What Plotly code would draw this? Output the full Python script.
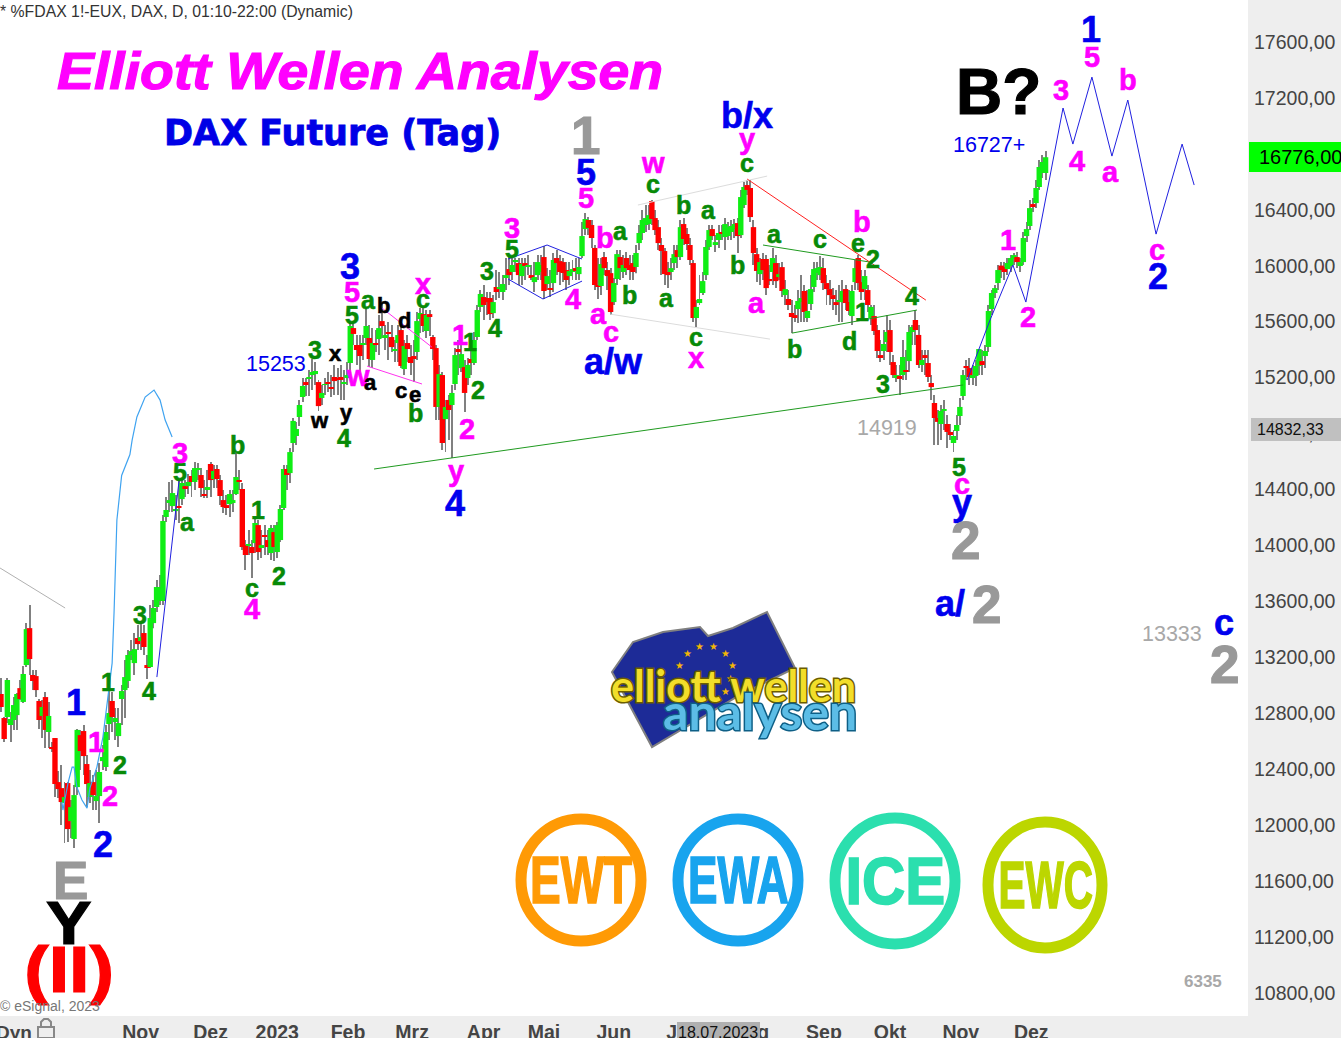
import plotly.graph_objects as go

# ---------- daily candles (FDAX), one entry per session ----------
opens = [12937,12765,12772,12715,12751,12786,12979,12880,13144,13408,
13073,13065,12887,12780,12915,12665,12558,12622,12307,12264,
12157,12300,12028,11900,12271,12643,12672,12436,12200,12307,
12171,12207,12457,12415,12722,12887,12736,12636,12901,12965,
13030,13216,13158,13337,13316,13373,13144,13130,13444,13559,
13602,13602,14203,14303,14281,14245,14281,14331,14424,14424,
14496,14453,14539,14503,14367,14403,14582,14474,14546,14467,
14324,14288,14295,14303,14367,14467,14403,14002,14002,13988,
14016,14145,13988,14074,14038,13945,14095,13952,14038,14267,
14546,14517,14732,14782,14918,15061,15168,15190,15218,15225,
15168,15054,15147,15168,15132,15204,15197,15204,15161,15204,
15304,15554,15433,15433,15440,15483,15483,15326,15447,15476,
15604,15490,15526,15490,15397,15447,15540,15261,15447,15347,
15354,15383,15619,15654,15533,15654,15490,15411,14990,15218,
14903,15040,15004,15154,15404,15268,15275,15197,15333,15304,
15490,15705,15776,15769,15769,15661,15848,15833,15812,15912,
15976,15955,16026,16019,15926,16019,15991,15933,15883,15933,
15955,16062,15869,15840,15876,16055,16033,16026,15969,15926,
15955,15983,15940,16069,16262,16327,16291,16127,15855,15855,
16062,15969,15947,15740,15905,16062,15955,16055,16005,16019,
15991,16162,16234,16291,16298,16463,16341,16276,16148,16105,
15955,15955,16019,16112,16062,16298,16227,16148,16019,15626,
15733,15805,15933,16134,16262,16155,16184,16241,16205,16212,
16241,16262,16305,16219,16434,16577,16556,16276,16083,15940,
16048,16048,15905,15955,16019,15926,15990,15790,15762,15662,
15647,15690,15740,15819,15626,15726,15848,15948,15933,15983,
15876,15833,15790,15740,15740,15740,15833,15740,15640,15883,
16055,15883,15833,15826,15626,15640,15540,15361,15390,15454,
15540,15311,15204,15211,15218,15254,15318,15526,15612,15505,
15290,15361,15304,15161,15018,14911,14868,14968,14868,14811,
14732,14818,14925,15068,15283,15268,15204,15211,15283,15318,
15354,15419,15690,15805,15876,16001,15990,15976,15998,16048,
16062,15998,16026,16212,16284,16441,16448,16563,16663,16663]
highs = [13051,12772,13051,12808,12915,12944,13037,13137,13444,13573,
13108,13108,12901,12894,12951,12880,12593,12622,12386,12429,
12307,12307,12179,12286,12687,12680,12715,12500,12393,12357,
12393,12443,12572,12715,12965,12951,12836,12836,13001,13180,
13252,13323,13373,13430,13451,13430,13216,13573,13609,13752,
13788,14217,14346,14453,14467,14360,14467,14482,14467,14510,
14539,14596,14589,14553,14467,14539,14596,14575,14575,14503,
14396,14360,14396,14396,14660,14539,14446,14038,14110,14038,
14195,14181,14110,14145,14110,14145,14145,14167,14288,14575,
14575,14696,14911,14882,15040,15197,15197,15254,15333,15312,
15183,15147,15197,15240,15218,15290,15268,15290,15254,15312,
15597,15590,15504,15504,15504,15705,15576,15554,15540,15647,
15733,15576,15597,15576,15469,15576,15597,15469,15504,15433,
15469,15669,15697,15697,15683,15683,15504,15433,15290,15240,
15040,15075,15147,15412,15469,15483,15326,15340,15397,15526,
15719,15826,15862,15812,15812,15790,15969,15955,15933,16055,
16076,16055,16055,16055,16055,16055,16076,16005,16026,16076,
16076,16141,15983,15969,16091,16112,16076,16055,16026,16026,
16041,16055,16055,16312,16377,16348,16327,16148,16055,16055,
16098,16026,15983,15912,16112,16112,16076,16098,16076,16076,
16148,16291,16399,16434,16434,16470,16399,16327,16198,16127,
16026,16055,16148,16148,16327,16341,16270,16198,16041,15755,
15933,15955,16184,16291,16291,16220,16291,16291,16341,16312,
16327,16334,16341,16541,16599,16613,16613,16327,16127,16055,
16091,16076,16005,16127,16076,16019,16026,15898,15826,15755,
15719,15826,15933,15862,15826,15933,16026,16026,16069,16055,
15933,15898,15840,15826,15862,15898,15862,15826,15862,16041,
16076,15969,15969,15862,15719,15719,15576,15469,15540,15647,
15612,15361,15290,15290,15469,15397,15576,15576,15683,15576,
15397,15397,15397,15218,15075,14968,15004,15040,14932,14868,
14825,14932,15054,15254,15326,15340,15290,15326,15404,15397,
15433,15719,15826,15862,16005,16026,16026,16055,16076,16091,
16098,16055,16241,16312,16470,16484,16613,16756,16792,16820]
lows = [12808,12593,12729,12593,12680,12680,12894,12872,13130,13073,
12965,12915,12687,12622,12550,12550,12522,12200,12193,12000,
11871,11878,11907,11835,12214,12393,12357,12128,12157,12107,
12107,12014,12393,12386,12608,12665,12608,12558,12715,12765,
12980,13180,13073,13252,13252,13216,13044,13123,13408,13523,
13573,13573,14167,14239,14239,14181,14160,14288,14346,14367,
14346,14396,14467,14346,14339,14339,14346,14410,14410,14288,
14231,14217,14203,14239,14360,14396,13967,13824,13931,13767,
13945,13895,13910,13931,13931,13895,13888,13910,14024,14253,
14396,14446,14667,14718,14854,15025,15068,15068,15111,15147,
14961,15004,15075,15097,15061,15075,15075,15040,15040,15147,
15218,15433,15290,15240,15326,15433,15276,15268,15383,15361,
15483,15397,15326,15383,15312,15312,15268,15218,15312,15218,
15168,15326,15519,15526,15483,15497,15326,14897,14897,14682,
14667,14754,14625,15111,15218,15240,14954,15147,15218,15290,
15469,15669,15612,15647,15612,15626,15755,15769,15755,15826,
15862,15898,15955,15862,15862,15898,15933,15898,15812,15898,
15898,15762,15826,15776,15812,15933,15862,15883,15826,15862,
15898,15898,15898,16055,16219,16219,16127,15826,15762,15790,
15933,15826,15647,15719,15862,15898,15912,15933,15898,15898,
15947,16112,16184,16241,16255,16291,16219,16112,15933,15862,
15840,15898,15969,15983,16041,16148,16112,16005,15597,15562,
15719,15790,15898,16112,16184,16098,16127,16184,16112,16184,
16184,16198,16091,16198,16412,16506,16312,16005,15883,15862,
15898,15790,15862,15862,15840,15898,15776,15719,15683,15519,
15597,15590,15597,15597,15597,15683,15812,15898,15898,15826,
15719,15719,15683,15647,15597,15597,15683,15647,15576,15826,
15826,15755,15755,15669,15576,15504,15340,15312,15326,15383,
15290,15197,15168,15075,15183,15183,15240,15433,15433,15268,
15240,15218,15168,15040,14718,14718,14754,14825,14696,14754,
14667,14754,14861,15040,15183,15147,15147,15140,15218,15218,
15268,15383,15647,15769,15826,15912,15898,15933,15955,16005,
15983,15955,16005,16169,16255,16384,16412,16541,16627,16613]
closes = [12844,12615,13037,12758,12858,12937,12901,13080,13401,13187,
13030,12965,12751,12844,12680,12780,12543,12293,12257,12164,
12200,11971,12128,12214,12680,12529,12493,12293,12300,12214,
12207,12379,12486,12665,12801,12772,12765,12729,12958,13058,
13216,13244,13258,13294,13344,13273,13130,13480,13552,13702,
13702,14174,14253,14324,14374,14260,14274,14446,14410,14453,
14453,14553,14553,14410,14353,14417,14467,14532,14474,14353,
14274,14274,14367,14324,14489,14460,13988,13931,14009,13945,
14160,13952,14002,14060,13988,14124,13988,14145,14260,14546,
14503,14667,14890,14832,15004,15140,15154,15204,15240,15247,
14996,15090,15154,15161,15125,15175,15183,15183,15168,15218,
15569,15512,15397,15354,15447,15569,15333,15447,15433,15554,
15569,15504,15512,15418,15404,15504,15283,15426,15404,15304,
15333,15604,15662,15569,15647,15640,15404,14990,15225,14732,
14990,14968,15090,15361,15383,15368,15090,15290,15304,15469,
15683,15798,15719,15740,15654,15740,15812,15848,15869,15933,
15933,16005,16041,15933,16012,15998,16005,15919,15919,16026,
16005,15819,15926,15833,16041,16019,15955,15948,15898,15962,
15976,15962,15991,16212,16334,16270,16198,15862,15848,16012,
15983,15926,15669,15876,16083,15983,16005,15983,15969,15955,
16091,16234,16327,16341,16362,16334,16255,16162,16105,15940,
15933,15983,16083,16062,16276,16191,16155,16041,15626,15705,
15762,15890,16134,16255,16212,16169,16234,16227,16298,16276,
16284,16298,16212,16491,16563,16542,16348,16091,15962,16026,
15969,15840,15890,16055,15890,15940,15819,15833,15719,15633,
15633,15748,15769,15669,15676,15833,15976,15983,15991,15876,
15833,15790,15762,15726,15755,15819,15733,15676,15819,15983,
15876,15812,15926,15719,15705,15533,15390,15347,15440,15526,
15383,15218,15218,15190,15347,15240,15526,15562,15540,15290,
15326,15340,15204,15132,14911,14883,14961,14975,14811,14789,
14782,14861,14990,15218,15268,15204,15218,15283,15404,15290,
15390,15676,15805,15840,15969,15969,15955,16019,16055,16076,
16026,16026,16198,16262,16412,16427,16556,16706,16742,16776]

# ---------- axes ----------
tick_sessions = [44,66,87,109.3,129.5,152,171,193,214,236,259.2,280,302.3,324.5]
tick_labels = ["Nov","Dez","2023","Feb","Mrz","Apr","Mai","Jun","Jul","Aug","Sep","Okt","Nov","Dez"]
price_ticks = [17600,17200,16800,16400,16000,15600,15200,14800,14400,14000,13600,13200,12800,12400,12000,11600,11200,10800]

# ---------- drawn lines: (session, price) ----------
support_s = [117.5,303.0];  support_p = [14546,15147]
old_s = [-0.3,20.2];  old_p = [13838,13552]
wave_s = [49.1,56.1];  wave_p = [13058,14467]
curve_s = [19.2,19.5,21.1,22.4,23.0,23.9,25.5,27.1,28.0,30.2,32.1,33.7,35.0,35.6,35.9,36.5,38.0,40.6,41.3,42.8,45.4,48.2,50.1,51.7,53.9]
curve_p = [12164,12107,12300,12414,12414,12271,12179,12121,12264,12414,12629,12944,13158,13516,13752,14181,14500,14650,14753,14918,15061,15111,15039,14896,14775]
proj_s = [304.3,311.5,318.7,322.8,334.5,337.6,343.6,349.9,354.9,363.8,372.0,375.8]
proj_p = [15182,15611,16005,15740,17128,16870,17349,16784,17185,16226,16870,16577]
dia_top_s = [159.7,172.0,183.0];  dia_top_p = [16048,16148,16048]
dia_bot_s = [183.0,170.7,159.7];  dia_bot_p = [15890,15762,15905]
pink1_s = [115.3,132.6];  pink1_p = [15282,15154]
pink2_s = [120.0,135.7];  pink2_p = [15697,15418]
gray1_s = [200.6,241.3];  gray1_p = [16434,16641]
gray2_s = [191.8,242.2];  gray2_p = [15654,15475]
red_s = [235.0,291.3];  red_p = [16620,15754]
tri1_s = [240.0,273.7];  tri1_p = [16148,16026]
tri2_s = [249.1,288.5];  tri2_p = [15518,15683]

# ---------- wave labels: (text, x px, y px = visual centre of the glyph) ----------
GREEN = "#078a07"; MAG = "#ff00ff"; BLUE = "#0000ee"; GRAY = "#999999"
green_labels = [("1",108,682),("2",120,765),("3",140,615),("4",149,691),("c",252,590),("2",279,576),("1",258,510),
 ("b",237,445),("5",180,472),("a",187,524),("3",315,350),("4",344,438),("5",352,315),("a",368,302),("b",415,413),
 ("c",423,301),("1",470,342),("2",478,390),("3",487,271),("4",495,328),("5",512,249),("a",620,233),("b",629,295),
 ("c",653,186),("b",683,205),("a",708,212),("a",666,300),("b",737,265),("c",696,339),("c",747,165),("a",774,236),
 ("c",820,241),("e",858,245),("2",873,259),("1",862,312),("b",794,349),("d",849,341),("3",883,384),("4",912,296),("5",959,467)]
magenta_labels = [("1",96,742),("2",110,796),("3",180,453),("4",252,609),("5",352,292),("w",358,378),("x",423,286),
 ("1",460,335),("2",467,429),("y",456,473),("3",512,228),("4",573,299),("a",598,316),("c",611,334),("b",605,238),
 ("5",586,198),("w",653,165),("y",747,141),("x",696,360),("a",756,305),("b",862,222),("c",962,486),("1",1008,240),
 ("2",1028,317),("3",1061,90),("5",1092,57),("b",1128,80),("4",1077,161),("a",1110,174),("c",1157,252)]
black_labels = [("x",335,355),("w",319,422),("y",346,414),("a",370,384),("b",383,305),("d",404,320),("c",401,392),("e",415,396)]
blue_labels = [("1",76,702),("2",103,844),("3",350,266),("4",455,503),("5",586,172),("a/w",613,364),("b/x",747,115),
 ("y",962,505),("1",1091,30),("2",1158,277),("a/",950,605),("c",1224,625)]
gray_labels = [("1",585,135),("2",965,540),("2",986,604),("2",1224,664),("E",70,880)]
plain_labels = [("15253",276,364,BLUE),("16727+",989,145,BLUE),("14919",887,428,"#a8a8a8"),("13333",1172,634,"#a8a8a8")]
logo_stars = [(687,653),(699,646),(713,646),(725,653),(732,665),(730,678),(725,691),(680,665)]
rings = [("EWT",581,880,60,61,"#ff9a05"),("EWA",738,880,60,61,"#18a4ee"),("ICE",895,881,60,63,"#2bdfae"),("EWC",1045,885,57,63,"#bcd600")]

# ---------- geometry of the window ----------
W, H, PW, PH = 1341, 1038, 1248, 1016
PX_PER_SESSION = 3.175
xrange_ = [-1/PX_PER_SESSION, (PW-1)/PX_PER_SESSION]
yrange_ = [10634, 17900.4]
FONT = "Liberation Sans"

def px(x): return x/PW
def py(y): return 1-y/PH

annotations, shapes = [], []
def label(text, x, y, size, color, weight=700, family=FONT, anchor="center", style="normal"):
    f = dict(family=family, size=size, color=color, weight=weight, style=style)
    annotations.append(dict(text=text, x=px(x), y=py(y), xref="paper", yref="paper", showarrow=False,
                            xanchor=anchor, yanchor="middle", font=f, borderpad=0, borderwidth=0))
def wave_label(text, x, y, size, color):
    # glyphs without ascenders sit lower in the line box than capitals and digits
    lift = {"a": .08, "c": .08, "e": .08, "x": .08, "w": .08, "a/": .04, "a/w": .06, "y": .08}.get(text, 0)
    label(text, x, y - lift*size, size, color)
def box(x0, y0, x1, y1, fill, line=None, lw=0, kind="rect", layer="above"):
    shapes.append(dict(type=kind, xref="paper", yref="paper", x0=px(x0), x1=px(x1), y0=py(y0), y1=py(y1),
                       fillcolor=fill, line=dict(color=line or fill, width=lw), layer=layer))
def poly(pts, fill=None, line="#777", lw=1, close=True):
    d = "M " + " L ".join(f"{px(a):.5f},{py(b):.5f}" for a, b in pts) + (" Z" if close else "")
    shapes.append(dict(type="path", path=d, xref="paper", yref="paper", fillcolor=fill or "rgba(0,0,0,0)",
                       line=dict(color=line, width=lw), layer="above"))

fig = go.Figure()
sessions = list(range(len(opens)))
# wicks
fig.add_trace(go.Bar(x=sessions, y=[h-l for h, l in zip(highs, lows)], base=lows, width=0.315,
                     marker=dict(color="#808080", line=dict(width=0)), hoverinfo="skip", showlegend=False))
# bodies
body_base = [min(o, c) for o, c in zip(opens, closes)]
body_size = [abs(o-c) for o, c in zip(opens, closes)]
body_col = ["#0fee14" if c >= o else "#ff0000" for o, c in zip(opens, closes)]
fig.add_trace(go.Bar(x=sessions, y=body_size, base=body_base, width=1.7,
                     marker=dict(color=body_col, line=dict(width=0)), hoverinfo="skip", showlegend=False))

def line(s, p, color, width=1):
    fig.add_trace(go.Scatter(x=s, y=p, mode="lines", line=dict(color=color, width=width),
                             hoverinfo="skip", showlegend=False))
line(old_s, old_p, "#b0b0b0")
line(gray1_s, gray1_p, "#dcdcdc"); line(gray2_s, gray2_p, "#dcdcdc")
line(support_s, support_p, "#1f9a1f"); line(tri1_s, tri1_p, "#1f9a1f"); line(tri2_s, tri2_p, "#1f9a1f")
line(curve_s, curve_p, "#3fa3f0", width=1.2)
line(wave_s, wave_p, "#2020e0"); line(proj_s, proj_p, "#2020e0")
line(dia_top_s, dia_top_p, "#2020e0"); line(dia_bot_s, dia_bot_p, "#2020e0")
line(pink1_s, pink1_p, "#ff33ee"); line(pink2_s, pink2_p, "#ff33ee")
line(red_s, red_p, "#ff2020")

# wave labels
for t, x, y in green_labels: wave_label(t, x, y, 25, GREEN)
for t, x, y in magenta_labels: wave_label(t, x, y, 29, MAG)
for t, x, y in black_labels: wave_label(t, x, y, 22, "#000000")
for t, x, y in blue_labels: wave_label(t, x, y, 36, BLUE)
for t, x, y in gray_labels: label(t, x, y, 53, GRAY)
for t, x, y, c in plain_labels: label(t, x, y, 21.5, c, weight=400)
label("Y", 68, 922, 62, "#000000")
label("(II)", 69, 970, 64, "#ff0000")
label("B?", 998, 92, 64, "#000000")
label("6335", 1203, 981, 17, "#a8a8a8")
label("Elliott Wellen Analysen", 360, 72, 53, "#ff00ff", style="italic")
label("DAX Future (Tag)", 332, 133, 35, "#0000e6", family="DejaVu Sans")
label("* %FDAX 1!-EUX, DAX, D, 01:10-22:00 (Dynamic)", 0, 12, 15.8, "#333333", weight=400, anchor="left")
label("© eSignal, 2023", 0, 1006, 14, "#777777", weight=400, anchor="left")

# logo
poly([(612,672),(633,642),(663,632),(700,627),(708,636),(733,628),(767,612),(795,668),(740,695),(652,747)],
     fill="#1d2b97", line="#808080", lw=2)
for x, y in logo_stars: label("★", x, y, 10, "#f2b705", family="DejaVu Sans", weight=400)
label("elliott wellen", 733, 685, 43, "#f2de2a", family="Lato")
label("analysen", 760, 711, 50, "#5cbde6", family="Lato")

# round badges
for t, cx, cy, rx, ry, c in rings:
    box(cx-rx, cy-ry, cx+rx, cy+ry, "rgba(0,0,0,0)", line=c, lw=11, kind="circle")
    label(t, cx, cy, 46, c)

# right scale flags
box(1249, 142, 1341, 172, "#00ff00")
label("16776,00", 1300, 157, 20, "#000000", weight=400)
box(1251, 418, 1341, 441, "#c0c0c0")
label("14832,33", 1290, 429, 16, "#111111", weight=400)
# crosshair date, status text and padlock on the time scale
box(677, 1022, 760, 1038, "#b0b0b0")
label("18.07.2023", 718, 1032, 16, "#111111", weight=400)
label("Dyn", 14, 1032, 19, "#444444")
box(38, 1027, 54, 1038, "rgba(0,0,0,0)", line="#888888", lw=2)
poly([(41,1027),(41,1022),(44,1019),(48,1019),(51,1022),(51,1027)], line="#888888", lw=2, close=False)

fig.update_layout(
    width=W, height=H, margin=dict(l=0, r=W-PW, t=0, b=H-PH), autosize=False,
    paper_bgcolor="#eeeeee", plot_bgcolor="#ffffff", barmode="overlay", separators=",.",
    showlegend=False, annotations=annotations, shapes=shapes, hovermode=False,
    xaxis=dict(range=xrange_, tickmode="array", tickvals=tick_sessions, ticktext=tick_labels, showgrid=False,
               zeroline=False, showline=False, ticks="", ticklabelstandoff=2, automargin=False,
               tickfont=dict(family=FONT, size=19.5, color="#444444", weight=700)),
    yaxis=dict(range=yrange_, side="right", tickmode="array", tickvals=price_ticks, tickformat=".2f", showgrid=False,
               zeroline=False, showline=False, ticks="", ticklabelstandoff=5, automargin=False,
               tickfont=dict(family=FONT, size=19.5, color="#444444")),
)

POST = """
document.body.style.margin='0';document.body.style.overflow='hidden';
setTimeout(function(){
 var scale={'EWT':[1,1.45],'EWA':[0.96,1.45],'ICE':[1.3,1.45],'EWC':[0.88,1.45],'Elliott Wellen Analysen':[1.045,0.96],'(II)':[1.15,1],'Y':[1.1,1]};
 var outline={'elliott wellen':'#6b5d00','analysen':'#0e5f86'};
 document.querySelectorAll('.annotation-text').forEach(function(t){
  var s=t.textContent, w=''+t.style.fontWeight, bold=(w==='700'||w==='bold'), fs=parseFloat(t.style.fontSize);
  if(outline[s]){t.style.stroke=outline[s];t.style.strokeWidth='3px';t.style.paintOrder='stroke';}
  else if(bold&&fs>=20){t.style.stroke=t.style.fill;t.style.strokeWidth=fs>=40?'1.2px':(s.length>3?'0.8px':'0.6px');}
  if(scale[s]){var b=t.getBBox(),cx=b.x+b.width/2,cy=b.y+b.height/2;
   t.setAttribute('transform','translate('+cx+','+cy+') scale('+scale[s][0]+','+scale[s][1]+') translate('+(-cx)+','+(-cy)+')');}
 });
},30);
"""
fig.write_html("out.html", config={"displayModeBar": False}, post_script=POST)
